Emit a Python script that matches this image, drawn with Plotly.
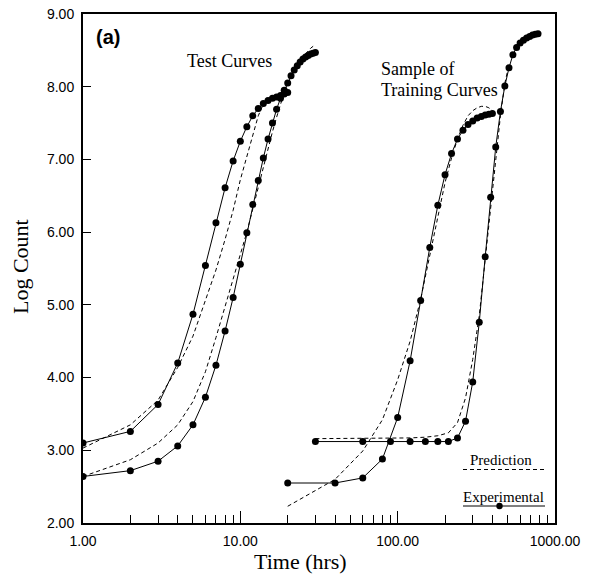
import plotly.graph_objects as go

# ---------------- data ----------------
# Test curve A (experimental), hourly from 1 h
test_a_x = [1, 2, 3, 4, 5, 6, 7, 8, 9, 10, 11, 12, 13, 14, 15, 16, 17, 18, 19, 20]
test_a_y = [3.10, 3.26, 3.63, 4.20, 4.87, 5.54, 6.13, 6.61, 6.98, 7.25, 7.45, 7.60,
            7.70, 7.77, 7.81, 7.84, 7.86, 7.88, 7.90, 7.92]
# Test curve B (experimental)
test_b_x = list(range(1, 31))
test_b_y = [2.64, 2.72, 2.85, 3.06, 3.35, 3.73, 4.17, 4.64, 5.10, 5.56, 5.99, 6.38,
            6.71, 7.02, 7.28, 7.50, 7.69, 7.84, 7.95, 8.05, 8.15, 8.23, 8.29, 8.34,
            8.38, 8.41, 8.43, 8.45, 8.46, 8.47]
# Test predictions
pred_a_x = [1, 2, 3, 4, 5, 6, 7, 8, 9, 10, 11, 12, 13, 14, 15]
pred_a_y = [3.03, 3.35, 3.69, 4.14, 4.57, 5.05, 5.48, 5.90, 6.30, 6.72, 7.04, 7.30,
            7.60, 7.76, 7.82]
pred_b_x = [1, 2, 3, 4, 5, 6, 7, 8, 9, 10, 11, 12, 13, 14, 15, 16, 17, 18, 19, 20,
            22, 24, 26, 28, 30]
pred_b_y = [2.64, 2.87, 3.10, 3.35, 3.67, 4.08, 4.55, 4.97, 5.36, 5.70, 6.00, 6.32,
            6.62, 6.90, 7.15, 7.38, 7.58, 7.76, 7.92, 8.05, 8.24, 8.37, 8.46, 8.53, 8.58]

# Training curve C (experimental), every 20 h
train_c_x = [20, 40, 60, 80, 100, 120, 140, 160, 180, 200, 220, 240, 260, 280, 300,
             320, 340, 360, 380, 400]
train_c_y = [2.55, 2.55, 2.62, 2.88, 3.45, 4.23, 5.06, 5.79, 6.37, 6.79, 7.08, 7.28,
             7.40, 7.48, 7.53, 7.57, 7.59, 7.61, 7.62, 7.63]
# Training curve D (experimental), every 30 h
train_d_x = [30, 60, 90, 120, 150, 180, 210, 240, 270, 300, 330, 360, 390, 420, 450,
             480, 510, 540, 570, 600, 630, 660, 690, 720, 750, 780]
train_d_y = [3.12, 3.12, 3.12, 3.12, 3.12, 3.12, 3.12, 3.17, 3.40, 3.94, 4.76, 5.66,
             6.48, 7.17, 7.66, 8.01, 8.26, 8.44, 8.54, 8.60, 8.64, 8.67, 8.69, 8.71,
             8.72, 8.73]
# Training predictions
pred_c_x = [20, 40, 60, 80, 100, 120, 140, 160, 180, 200, 220, 240, 260, 280, 300,
            320, 340, 360, 380, 400]
pred_c_y = [2.23, 2.60, 2.99, 3.42, 3.97, 4.50, 5.08, 5.68, 6.22, 6.68, 7.02, 7.28,
            7.47, 7.60, 7.67, 7.71, 7.73, 7.73, 7.71, 7.67]
pred_d_x = [30, 60, 90, 120, 150, 180, 210, 240, 270, 300, 330, 360, 390, 420, 450,
            480, 510]
pred_d_y = [3.16, 3.16, 3.16, 3.17, 3.18, 3.20, 3.24, 3.38, 3.72, 4.25, 4.85, 5.62,
            6.40, 7.05, 7.60, 8.05, 8.30]

x_major = [1, 10, 100, 1000]
x_major_labels = ["1.00", "10.00", "100.00", "1000.00"]
x_minor = [m * d for d in (1, 10, 100) for m in range(2, 10)]
y_ticks = [2, 3, 4, 5, 6, 7, 8, 9]
y_labels = ["2.00", "3.00", "4.00", "5.00", "6.00", "7.00", "8.00", "9.00"]

SERIF = "Liberation Serif"
SANS = "Liberation Sans"

fig = go.Figure()

for xs, ys in [(pred_a_x, pred_a_y), (pred_b_x, pred_b_y),
               (pred_c_x, pred_c_y), (pred_d_x, pred_d_y)]:
    fig.add_trace(go.Scatter(x=xs, y=ys, mode="lines",
                             line=dict(color="black", width=1, dash="4px,3px"),
                             showlegend=False, hoverinfo="skip"))

for xs, ys in [(test_a_x, test_a_y), (test_b_x, test_b_y),
               (train_c_x, train_c_y), (train_d_x, train_d_y)]:
    fig.add_trace(go.Scatter(x=xs, y=ys, mode="lines+markers",
                             line=dict(color="black", width=1),
                             marker=dict(color="black", size=7, symbol="circle"),
                             showlegend=False))

fig.update_xaxes(type="log", range=[0, 3], showline=True, linecolor="black",
                 linewidth=2, mirror=True, showgrid=False, zeroline=False,
                 automargin=False,
                 tickmode="array", tickvals=x_major, ticktext=x_major_labels,
                 ticks="inside", ticklen=12, tickwidth=1, tickcolor="black",
                 ticklabelstandoff=4,
                 tickfont=dict(family=SANS, size=14, color="black"),
                 minor=dict(tickmode="array", tickvals=x_minor, ticks="inside",
                            ticklen=8, tickwidth=1, tickcolor="black", showgrid=False))
fig.update_yaxes(range=[2, 9], showline=True, linecolor="black", linewidth=2,
                 mirror=True, showgrid=False, zeroline=False, automargin=False,
                 tickmode="array", tickvals=y_ticks, ticktext=y_labels,
                 ticks="inside", ticklen=8, tickwidth=1, tickcolor="black",
                 ticklabelstandoff=4,
                 tickfont=dict(family=SANS, size=14, color="black"))

L, R, T, B = 83, 555, 14, 523
W, H = R - L, B - T


def px(x):
    return (x - L) / W


def py(y):
    return (B - y) / H


annots = [
    dict(text="<b>(a)</b>", x=px(108), y=py(37), font=dict(family=SANS, size=20),
         xanchor="center", yanchor="middle"),
    dict(text="Test Curves", x=px(229.5), y=py(61), font=dict(family=SERIF, size=18),
         xanchor="center", yanchor="middle"),
    dict(text="Sample of", x=px(379), y=py(69), font=dict(family=SERIF, size=18),
         xanchor="left", yanchor="middle"),
    dict(text="Training Curves", x=px(379), y=py(90), font=dict(family=SERIF, size=18),
         xanchor="left", yanchor="middle"),
    dict(text="Prediction", x=px(501), y=py(460), font=dict(family=SERIF, size=15),
         xanchor="center", yanchor="middle"),
    dict(text="Experimental", x=px(503.5), y=py(497), font=dict(family=SERIF, size=15),
         xanchor="center", yanchor="middle"),
    dict(text="Time (hrs)", x=px(300.5), y=py(561), font=dict(family=SERIF, size=22),
         xanchor="center", yanchor="middle"),
    dict(text="Log Count", x=px(20), y=py(267), font=dict(family=SERIF, size=22),
         xanchor="center", yanchor="middle", textangle=-90),
]
for a in annots:
    a.update(xref="paper", yref="paper", showarrow=False)
    a["font"]["color"] = "black"

shapes = [
    dict(type="line", xref="paper", yref="paper", x0=px(463), x1=px(545),
         y0=py(469.5), y1=py(469.5), line=dict(color="black", width=1, dash="4px,3px")),
    dict(type="line", xref="paper", yref="paper", x0=px(463), x1=px(545),
         y0=py(506), y1=py(506), line=dict(color="black", width=1)),
    dict(type="circle", xref="paper", yref="paper", xsizemode="pixel",
         ysizemode="pixel", xanchor=px(499.5), yanchor=py(506),
         x0=-3.2, x1=3.2, y0=-3.2, y1=3.2, fillcolor="black",
         line=dict(color="black", width=0)),
]

fig.update_layout(width=595, height=577, margin=dict(l=L, r=595 - R, t=T, b=577 - B),
                  paper_bgcolor="white", plot_bgcolor="white",
                  annotations=annots, shapes=shapes, showlegend=False)

fig.write_html("out.html", config={"displayModeBar": False},
               post_script="document.body.style.margin='0';"
                           "document.body.style.overflow='hidden';")
